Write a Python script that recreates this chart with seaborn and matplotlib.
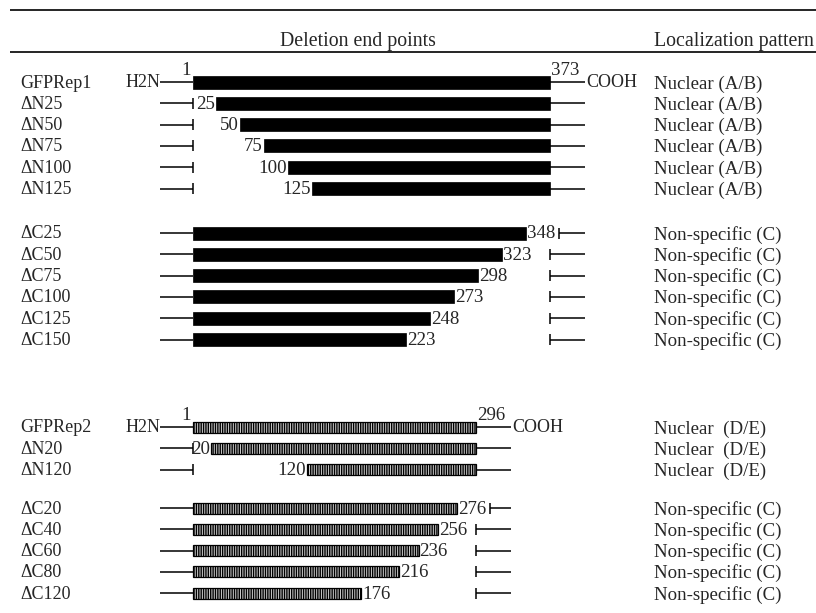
import matplotlib.pyplot as plt
import seaborn as sns

# constructs, deletion end points and localization
rep1_names = ["GFPRep1", "ΔN25", "ΔN50", "ΔN75", "ΔN100", "ΔN125"]
rep1_start = [1, 25, 50, 75, 100, 125]
rep1_loc = ["Nuclear (A/B)"] * 6

rep1c_names = ["ΔC25", "ΔC50", "ΔC75", "ΔC100", "ΔC125", "ΔC150"]
rep1c_end = [348, 323, 298, 273, 248, 223]
rep1c_loc = ["Non-specific (C)"] * 6

rep2_names = ["GFPRep2", "ΔN20", "ΔN120"]
rep2_start = [1, 20, 120]
rep2_loc = ["Nuclear  (D/E)"] * 3

rep2c_names = ["ΔC20", "ΔC40", "ΔC60", "ΔC80", "ΔC120"]
rep2c_end = [276, 256, 236, 216, 176]
rep2c_loc = ["Non-specific (C)"] * 5

rep1_len = 373
rep2_len = 296

sns.set_theme(style="white")
plt.rcParams["font.family"] = ["Liberation Serif", "DejaVu Serif"]
FS_NAME = 13
FS = 13.6
FS_HEAD = 14.3

fig = plt.figure(figsize=(8.16, 6.13), dpi=100)
ax = fig.add_axes([0, 0, 1, 1])
ax.axis("off")

# residue axis: residue 1 sits at pixel 193, residue 373 at pixel 550
k = (550 - 193) / (rep1_len - 1)
def px(p):
    return 1 + (p - 193) / k

ax.set_xlim(px(0), px(816))
ax.set_ylim(613, 0)
renderer = fig.canvas.get_renderer()

LEFT_END = px(160)
TAIL = 35 / k
TICK = 5.5
LW = 1.1


def bar(y, start, end, solid):
    if solid:
        ax.barh(y, end - start, left=start, height=13, color="black",
                edgecolor="black", linewidth=0.5)
    else:
        ax.barh(y, end - start, left=start, height=11, color="#cfcfcf",
                edgecolor="black", hatch="|" * 7, linewidth=0.9)


def row_text(y, name, loc):
    ax.text(px(20), y + 5.5, name, fontsize=FS_NAME, va="baseline", ha="left")
    ax.text(px(654), y + 6.5, loc, fontsize=FS, va="baseline", ha="left")


def full_row(y, name, loc, length, solid):
    row_text(y, name, loc)
    ax.text(LEFT_END, y + 5, "H2N", fontsize=FS_NAME, ha="right", va="baseline")
    ax.hlines(y, LEFT_END, 1, color="black", lw=LW)
    ax.text(px(191), y - 7, "1", fontsize=FS, ha="right", va="baseline")
    bar(y, 1, length, solid)
    ax.hlines(y, length, length + TAIL, color="black", lw=LW)
    ax.text(length + 1 / k, y - 7, str(length), fontsize=FS, ha="left", va="baseline")
    ax.text(length + TAIL + 1 / k, y + 5, "COOH", fontsize=FS_NAME, ha="left", va="baseline")


def n_row(y, name, loc, start, length, solid):
    row_text(y, name, loc)
    ax.hlines(y, LEFT_END, 1, color="black", lw=LW)
    ax.vlines(1, y - TICK, y + TICK, color="black", lw=LW)
    ax.text(start - 1.5 / k, y + 5.5, str(start), fontsize=FS, ha="right", va="baseline")
    bar(y, start, length, solid)
    ax.hlines(y, length, length + TAIL, color="black", lw=LW)


def c_row(y, name, loc, end, length, solid):
    row_text(y, name, loc)
    ax.hlines(y, LEFT_END, 1, color="black", lw=LW)
    bar(y, 1, end, solid)
    t = ax.text(end + 1 / k, y + 5.5, str(end), fontsize=FS, ha="left", va="baseline")
    # move the tick right when the end label would run into it
    right = ax.transData.inverted().transform(t.get_window_extent(renderer))[1, 0]
    tick_x = max(length, right + 4 / k)
    ax.vlines(tick_x, y - TICK, y + TICK, color="black", lw=LW)
    ax.hlines(y, tick_x, length + TAIL, color="black", lw=LW)


PITCH = 21.3
group_tops = [82, 233, 427, 508]

# GFPRep1 and N-terminal deletions
for i, (name, s, loc) in enumerate(zip(rep1_names, rep1_start, rep1_loc)):
    y = group_tops[0] + i * PITCH
    if i == 0:
        full_row(y, name, loc, rep1_len, True)
    else:
        n_row(y, name, loc, s, rep1_len, True)

# GFPRep1 C-terminal deletions
for i, (name, e, loc) in enumerate(zip(rep1c_names, rep1c_end, rep1c_loc)):
    c_row(group_tops[1] + i * PITCH, name, loc, e, rep1_len, True)

# GFPRep2 and N-terminal deletions
for i, (name, s, loc) in enumerate(zip(rep2_names, rep2_start, rep2_loc)):
    y = group_tops[2] + i * PITCH
    if i == 0:
        full_row(y, name, loc, rep2_len, False)
    else:
        n_row(y, name, loc, s, rep2_len, False)

# GFPRep2 C-terminal deletions
for i, (name, e, loc) in enumerate(zip(rep2c_names, rep2c_end, rep2c_loc)):
    c_row(group_tops[3] + i * PITCH, name, loc, e, rep2_len, False)

# table header
ax.hlines([9.5, 52], px(10), px(816), color="black", lw=1.2)
ax.text(px(358), 46, "Deletion end points", fontsize=FS_HEAD, ha="center", va="baseline")
ax.text(px(654), 46, "Localization pattern", fontsize=FS_HEAD, ha="left", va="baseline")

plt.savefig("out.png", dpi=100)
